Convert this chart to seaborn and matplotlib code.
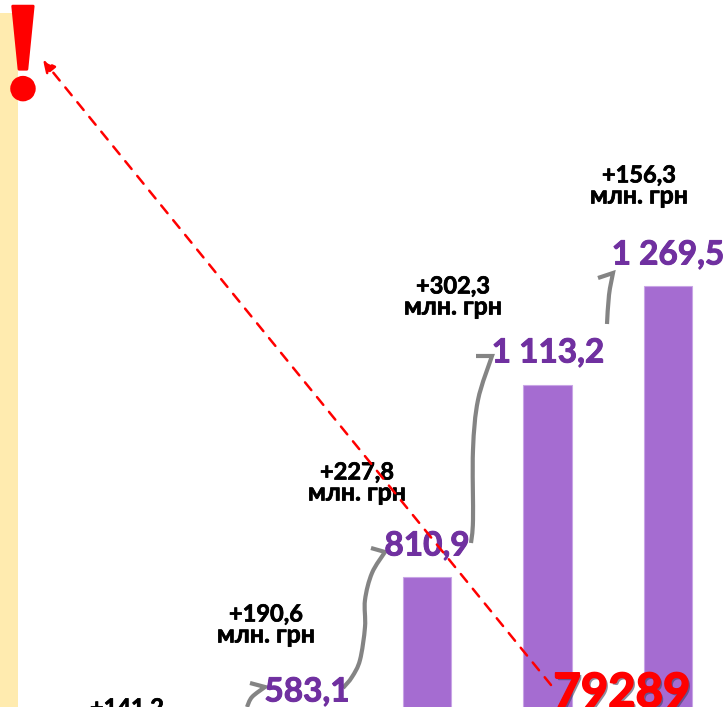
import matplotlib
matplotlib.use("Agg")
import matplotlib.pyplot as plt
import matplotlib.patheffects as pe
from matplotlib.path import Path
from matplotlib.patches import PathPatch, Rectangle, FancyArrowPatch
import pandas as pd
import seaborn as sns

# Data (the first bars and the axis sit below the visible crop)
periods = ["p1", "p2", "p3", "p4", "p5"]
values = [441.9, 583.1, 810.9, 1113.2, 1269.5]
value_labels = ["441,9", "583,1", "810,9", "1 113,2", "1 269,5"]
changes = ["+141,2", "+190,6", "+227,8", "+302,3", "+156,3"]
unit = "млн. грн"
total_label = "79289"

sns.set_theme(style="white")
plt.rcParams["font.family"] = ["Open Sans", "DejaVu Sans"]

fig = plt.figure(figsize=(7.25, 7.07), dpi=100)
ax = fig.add_axes([0, 0, 1, 1])
df = pd.DataFrame({"period": periods, "value": values})
sns.barplot(data=df, x="period", y="value", color="#A56CD1", saturation=1, width=0.4,
            edgecolor="#C9A5E6", linewidth=0.8, ax=ax)
ax.set_xlim(-1.544, 4.473)
ax.set_ylim(607, 1718.6)
ax.axis("off")

# overlay in picture pixels for the annotations
ov = fig.add_axes([0, 0, 1, 1], facecolor="none")
ov.set_xlim(0, 725)
ov.set_ylim(707, 0)
ov.axis("off")

ov.add_patch(Rectangle((0, 13), 18, 700, color="#FFEBAF", lw=0, zorder=1))

fonts = ["Lato", "Open Sans"]
purple = "#7030A0"


def bolder(color, width=0.7):
    return [pe.withStroke(linewidth=width, foreground=color)]


label_pos = [(0, 0), (307, 692), (427, 546), (548, 353), (668, 255)]
for (x, y), lab in zip(label_pos[1:], value_labels[1:]):
    ov.text(x, y, lab, color=purple, fontsize=24, fontweight="bold", ha="center", va="center",
            family=fonts, zorder=4, path_effects=bolder(purple))

change_pos = [(127, 718), (266, 624), (357, 482), (453, 296), (639, 185)]
for (x, y), lab in zip(change_pos, changes):
    ov.text(x, y - 10, lab, color="black", fontsize=17, fontweight="bold", ha="center", va="center",
            family=fonts, zorder=4, path_effects=bolder("black", 0.5))
    ov.text(x, y + 11, unit, color="black", fontsize=18, fontweight="bold", ha="center", va="center",
            family=fonts, zorder=4, path_effects=bolder("black", 0.5))

# grey hand drawn connectors
connectors = [
    [(247, 707), (252, 697), (265, 687), (250, 683)],
    [(343, 688), (352, 677), (360, 660), (365, 627), (365, 600), (372, 573), (385, 552), (371, 548)],
    [(471, 543), (473, 520), (473, 450), (478, 400), (492, 356), (476, 356)],
    [(607, 324), (609, 295), (613, 273), (598, 278)],
]
for pts in connectors:
    # smooth the body with a Catmull-Rom style bezier, last segment is the barb
    body = pts[:-1]
    verts = [body[0]]
    codes = [Path.MOVETO]
    for i in range(len(body) - 1):
        p0 = body[max(i - 1, 0)]
        p1 = body[i]
        p2 = body[i + 1]
        p3 = body[min(i + 2, len(body) - 1)]
        verts += [(p1[0] + (p2[0] - p0[0]) / 6, p1[1] + (p2[1] - p0[1]) / 6),
                  (p2[0] - (p3[0] - p1[0]) / 6, p2[1] - (p3[1] - p1[1]) / 6), p2]
        codes += [Path.CURVE4] * 3
    verts.append(pts[-1])
    codes.append(Path.LINETO)
    ov.add_patch(PathPatch(Path(verts, codes), fc="none", ec="#848484", lw=3, zorder=3))

# red dashed arrow
ov.add_patch(FancyArrowPatch((551, 685), (43, 60), arrowstyle="-|>", mutation_scale=18,
                             color="red", lw=1.8, linestyle=(0, (4, 3.6)), shrinkA=0, shrinkB=0, zorder=5))

ov.text(23, 98, "!", color="red", fontsize=101, fontweight="bold", ha="center", va="baseline",
        family="Liberation Serif", zorder=6,
        path_effects=[pe.withStroke(linewidth=2, foreground="red")])
ov.text(622, 707, total_label, color="red", fontsize=34, fontweight="bold", ha="center", va="baseline",
        family=fonts, zorder=6,
        path_effects=[pe.withSimplePatchShadow(offset=(1.5, -1.5), shadow_rgbFace="#404060", alpha=0.6),
                      pe.withStroke(linewidth=1.2, foreground="red")])

fig.savefig("out.png", dpi=100)
